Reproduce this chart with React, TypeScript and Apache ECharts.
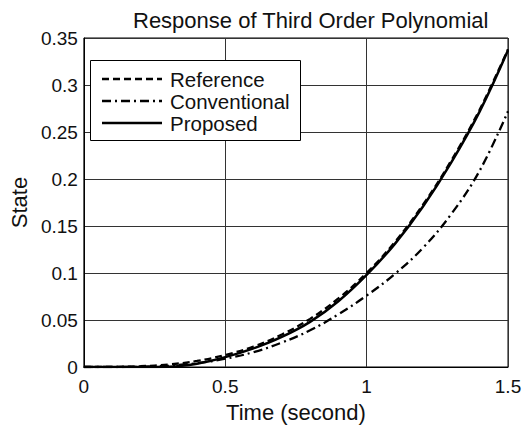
import React, { useEffect, useRef } from "react";
import * as echarts from "echarts";

const time = [0, 0.1, 0.2, 0.3, 0.4, 0.5, 0.6, 0.7, 0.8, 0.9, 1.0, 1.1, 1.2, 1.3, 1.4, 1.5];
const reference = [0, 0.0001, 0.0008, 0.0027, 0.0064, 0.0128, 0.0218, 0.0345, 0.0512, 0.0729, 0.1, 0.133, 0.173, 0.22, 0.274, 0.338];
const conventional = [0, 0, 0.0003, 0.0015, 0.004, 0.0088, 0.0158, 0.026, 0.039, 0.056, 0.076, 0.099, 0.127, 0.163, 0.209, 0.272];
const proposed = [0, 0, 0, 0.0003, 0.0035, 0.0105, 0.0198, 0.032, 0.048, 0.07, 0.098, 0.131, 0.171, 0.218, 0.272, 0.337];

const seriesNames = ["Reference", "Conventional", "Proposed"];
const titleText = "Response of Third Order Polynomial";
const xName = "Time (second)";
const yName = "State";

const FONT = "Liberation Sans, Arial, sans-serif";
const DASHES: number[][] = [[7, 4], [9, 4, 2, 4], []];

function pairs(ys: number[]) {
  return time.map((t, i) => [t, ys[i]]);
}

export default function App() {
  const ref = useRef<HTMLDivElement>(null);
  useEffect(() => {
    document.body.style.margin = "0";
    const chart = echarts.init(ref.current!, null, { renderer: "svg" });
    const lineCommon = {
      type: "line",
      showSymbol: false,
      symbol: "none",
      smooth: 0.4,
      z: 3,
    };
    const legendRows = [79, 101, 123];
    const legendGraphics: any[] = [
      {
        type: "rect",
        z: 10,
        shape: { x: 90.5, y: 60.5, width: 210, height: 80 },
        style: { fill: "#fff", stroke: "#000", lineWidth: 1 },
      },
    ];
    seriesNames.forEach((n, i) => {
      legendGraphics.push({
        type: "line",
        z: 11,
        shape: { x1: 102, y1: legendRows[i], x2: 162, y2: legendRows[i] },
        style: {
          stroke: "#000",
          lineWidth: 2.4,
          lineDash: DASHES[i].length ? DASHES[i] : null,
        },
      });
      legendGraphics.push({
        type: "text",
        z: 11,
        x: 170,
        y: legendRows[i],
        style: {
          text: n,
          fill: "#111",
          font: `20.5px ${FONT}`,
          lineHeight: 20,
          textVerticalAlign: "middle",
          verticalAlign: "middle",
        },
      });
    });
    chart.setOption({
      animation: false,
      backgroundColor: "#fff",
      textStyle: { fontFamily: FONT, color: "#111" },
      title: {
        text: titleText,
        left: 133,
        top: 9,
        padding: 0,
        textStyle: { fontFamily: FONT, fontSize: 22, fontWeight: "normal", color: "#111" },
      },
      grid: {
        left: 79,
        right: 18,
        top: 38,
        bottom: 59,
        show: true,
        borderColor: "#000",
        borderWidth: 1,
        backgroundColor: "transparent",
      },
      graphic: legendGraphics,
      xAxis: {
        type: "value",
        min: 0,
        max: 1.5,
        interval: 0.5,
        name: xName,
        nameLocation: "middle",
        nameGap: 34,
        nameTextStyle: { fontFamily: FONT, fontSize: 22, color: "#111" },
        axisLine: { show: true, lineStyle: { color: "#000", width: 1 } },
        axisTick: { show: false },
        axisLabel: { fontFamily: FONT, fontSize: 19, color: "#111", margin: 10 },
        splitLine: { show: true, lineStyle: { color: "#333", width: 1 } },
      },
      yAxis: {
        type: "value",
        min: 0,
        max: 0.35,
        interval: 0.05,
        name: yName,
        nameLocation: "middle",
        nameGap: 46,
        nameTextStyle: { fontFamily: FONT, fontSize: 22, color: "#111" },
        axisLine: { show: true, lineStyle: { color: "#000", width: 1 } },
        axisTick: { show: false },
        axisLabel: { fontFamily: FONT, fontSize: 19, color: "#111", margin: 6 },
        splitLine: { show: true, lineStyle: { color: "#333", width: 1 } },
      },
      series: [
        {
          ...lineCommon,
          name: seriesNames[0],
          data: pairs(reference),
          lineStyle: { color: "#000", width: 2.3, type: DASHES[0] },
        },
        {
          ...lineCommon,
          name: seriesNames[1],
          data: pairs(conventional),
          lineStyle: { color: "#000", width: 2.3, type: DASHES[1] },
        },
        {
          ...lineCommon,
          name: seriesNames[2],
          data: pairs(proposed),
          lineStyle: { color: "#000", width: 2.5, type: "solid" },
        },
      ],
    });
    return () => chart.dispose();
  }, []);
  return <div ref={ref} style={{ width: 526, height: 428 }} />;
}
